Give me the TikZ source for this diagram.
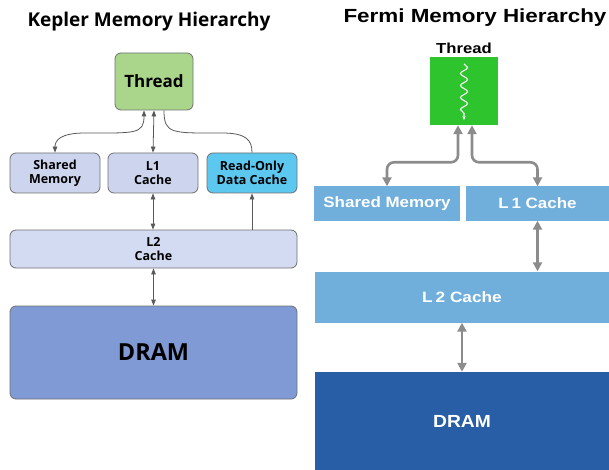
\documentclass[tikz,border=0pt]{standalone}
\usepackage{fontspec}
\usepackage{tikz}
\usetikzlibrary{calc,positioning,arrows.meta,decorations.pathmorphing}
\usepackage{xcolor}
\newfontfamily\keplerfont{Open Sans}
\newfontfamily\fermifont{Liberation Sans}
\definecolor{kgreen}{RGB}{170,214,140}
\definecolor{klav}{RGB}{205,213,238}
\definecolor{kltwo}{RGB}{210,219,241}
\definecolor{kdram}{RGB}{128,154,213}
\definecolor{kcyan}{RGB}{92,200,240}
\definecolor{kborder}{RGB}{112,112,112}
\definecolor{fgreen}{RGB}{45,196,45}
\definecolor{flight}{RGB}{112,174,220}
\definecolor{fdark}{RGB}{40,94,166}
\definecolor{fgray}{RGB}{140,140,140}

\begin{document}
\begin{tikzpicture}[x=1pt,y=-1pt,
  kbox/.style={draw=kborder, line width=0.8pt, rounded corners=6pt, fill=klav, align=center,
    font=\keplerfont\bfseries\fontsize{12.5}{14}\selectfont, text=black},
  fbox/.style={fill=flight, text=white, font=\fermifont\bfseries\fontsize{15}{17}\selectfont},
  karrow/.style={draw=black!65, line width=0.8pt, {Triangle[length=6pt,width=4.5pt]}-{Triangle[length=6pt,width=4.5pt]}},
  farrow/.style={draw=fgray, line width=2.6pt, rounded corners=7pt, {Triangle[length=9pt,width=9pt]}-{Triangle[length=9pt,width=9pt]}}]
  \useasboundingbox (0,0) rectangle (609,470);

  % Kepler side
  \node[font=\keplerfont\bfseries\fontsize{19}{22}\selectfont] (ktitle) at (149,22) {Kepler Memory Hierarchy};
  \node[kbox, fill=kgreen, minimum width=78pt, minimum height=57pt, font=\keplerfont\bfseries\fontsize{17}{19}\selectfont] (thread) at (154,81.5) {Thread};
  \node[kbox, minimum width=90pt, minimum height=40pt] (shmem) at (55,173) {Shared\\Memory};
  \node[kbox, minimum width=90pt, minimum height=40pt] (lone) at (153,173) {L1\\Cache};
  \node[kbox, fill=kcyan, minimum width=90pt, minimum height=40pt] (rodc) at (252,173) {Read-Only\\Data Cache};
  \node[kbox, fill=kltwo, minimum width=287pt, minimum height=38pt] (ltwo) at (153.5,249) {L2\\Cache};
  \node[kbox, fill=kdram, minimum width=287pt, minimum height=93pt, font=\keplerfont\bfseries\fontsize{23.5}{26}\selectfont] (dram) at (153.5,352.5) {DRAM};

  \draw[karrow] ([xshift=-10pt]thread.south) .. controls +(0,24) and +(50,0) .. (85,133) .. controls +(-25,0) and +(0,-12) .. (shmem.north);
  \draw[karrow] (thread.south) -- (lone.north);
  \draw[karrow, -] ([xshift=10pt]thread.south) .. controls +(0,24) and +(-50,0) .. (222,133) .. controls +(25,0) and +(0,-12) .. (rodc.north);
  \draw[karrow] (lone.south) -- (ltwo.north -| lone.south);
  \draw[karrow, -{Triangle[length=6pt,width=4.5pt]}] (ltwo.north -| rodc.south) -- (rodc.south);
  \draw[karrow] (ltwo.south) -- (dram.north);

  % Fermi side
  \node[font=\fermifont\bfseries\fontsize{19}{21}\selectfont] (ftitle) at (475,18) {\scalebox{1.18}[1]{Fermi Memory Hierarchy}};
  \node[fill=fgreen, minimum width=68pt, minimum height=68pt] (fthread) at (464,91) {};
  \node[font=\fermifont\bfseries\fontsize{14.5}{16}\selectfont, above=0pt of fthread] (fthreadlbl) {\scalebox{1.15}[1]{Thread}};
  \node[fbox, minimum width=146pt, minimum height=34pt] (fshmem) at (387,203.5) {\scalebox{1.13}[1]{Shared Memory}};
  \node[fbox, minimum width=143pt, minimum height=34pt] (flone) at (537.5,203.5) {\scalebox{1.13}[1]{L\,1 Cache}};
  \node[fbox, minimum width=294pt, minimum height=51pt] (fltwo) at (462,297) {\scalebox{1.15}[1]{L\,2 Cache}};
  \node[fbox, fill=fdark, minimum width=294pt, minimum height=98pt, font=\fermifont\bfseries\fontsize{17.5}{19}\selectfont] (fdram) at (462,421) {\scalebox{1.1}[1]{DRAM}};

  \draw[white, line width=1.1pt, decorate, decoration={snake, amplitude=3.5pt, segment length=12pt, post length=4pt}, -{Stealth[length=4pt]}] ([yshift=-7pt]fthread.north) -- ([yshift=5pt]fthread.south);

  \draw[farrow] ([xshift=-6pt]fthread.south) |- ($(fshmem.north)+(0,-24)$) -- (fshmem.north);
  \draw[farrow] ([xshift=8pt]fthread.south) |- ($(flone.north)+(0,-24)$) -- (flone.north);
  \draw[farrow] (flone.south) -- (fltwo.north -| flone.south);
  \draw[farrow] (fltwo.south) -- (fdram.north);
\end{tikzpicture}
\end{document}
